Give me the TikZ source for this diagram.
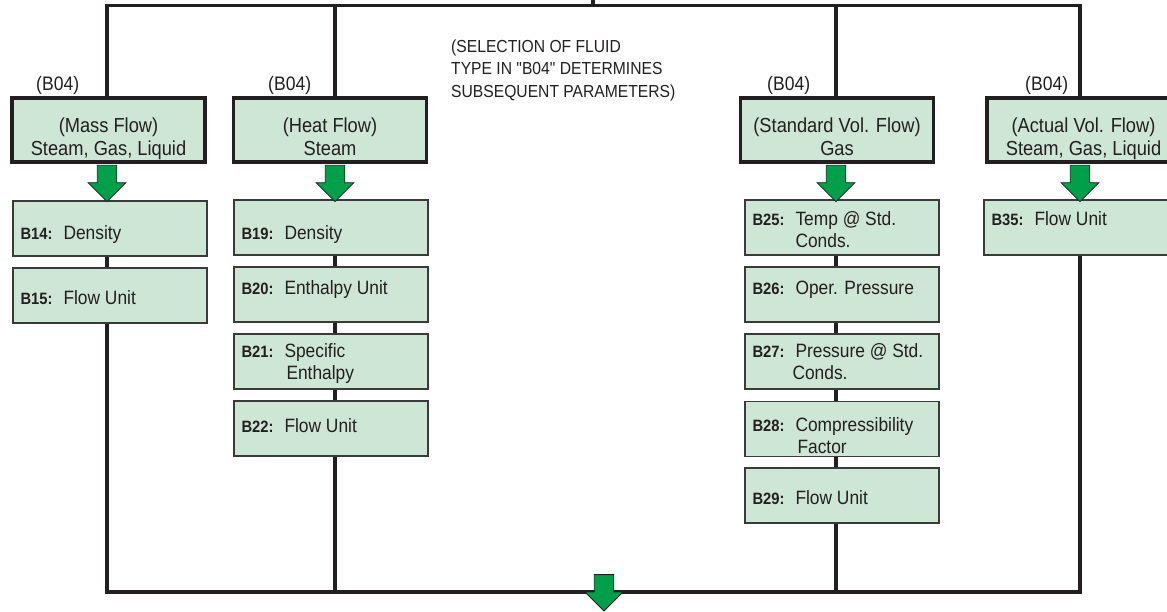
\documentclass[tikz,border=0pt]{standalone}
\usepackage{fontspec}
\setmainfont[FakeStretch=0.9]{Liberation Sans}
\newfontfamily\notefamily[FakeStretch=0.9]{Liberation Sans}
\usetikzlibrary{calc,backgrounds}
\definecolor{boxgreen}{HTML}{CDE6D5}
\definecolor{arrgreen}{HTML}{00A04B}
\definecolor{linedark}{HTML}{231F20}
\definecolor{thinborder}{HTML}{3A3A3A}
\newcommand\hdrfont{\fontsize{20.3}{23}\selectfont}
\newcommand\itmfont{\fontsize{19.3}{22}\selectfont}
\newcommand\tagfont{\fontsize{16.4}{22}\selectfont\bfseries}
\newcommand\notefont{\notefamily\fontsize{17.4}{22.5}\selectfont}
\newcommand\bfont{\fontsize{19.5}{22}\selectfont}
\newcommand\hdrtext[2]{\begin{tabular}[t]{@{}c@{}}#1\\#2\end{tabular}}
\newcommand\itmtext[3]{\begin{tabular}[t]{@{}p{43pt}@{}p{136pt}@{}}\tagfont #1 & \itmfont #2\\ & \itmfont #3\end{tabular}}
\begin{document}
\begin{tikzpicture}[x=1pt,y=-1pt,
  hdr/.style={draw=linedark, line width=3.3pt, fill=boxgreen, minimum width=193pt,
    minimum height=64pt, inner sep=0pt, text height=27pt, text depth=23pt,
    font=\hdrfont, text=linedark},
  itm/.style 2 args={draw=thinborder, line width=1.3pt, fill=boxgreen, minimum width=194pt,
    minimum height=55pt, inner ysep=0pt, text height=#1, text depth=#2,
    font=\itmfont, text=linedark},
  bus/.style={draw=linedark, line width=3.4pt},
  conn/.style={draw=linedark, line width=3.3pt},
  outbus/.style={draw=linedark, line width=4.5pt, line cap=rect},
  lbl/.style={anchor=base west, inner sep=0pt, text=linedark},
  garrow/.pic={\draw[fill=arrgreen, draw=linedark, line width=0.8pt]
    (-9.75,1.6) -- (-9.75,19) -- (-19,19) -- (0,38) -- (19,19) -- (9.75,19) -- (9.75,1.6) -- cycle;}
]
\useasboundingbox (0,0) rectangle (1167,611);

% column coordinates
\coordinate (x1) at (107,5.5);
\coordinate (x2) at (335,5.5);
\coordinate (x3) at (836,5.5);
\coordinate (x4) at (1080,5.5);
\coordinate (in) at (593,0);
\coordinate (tj) at (593,5.5);
\coordinate (y1) at (107,592);
\coordinate (y2) at (335,592);
\coordinate (y3) at (836,592);
\coordinate (y4) at (1080,592);
\coordinate (out) at (604,573);

% parameter boxes
\node[itm={28pt}{7pt}]  (b14) at (110,228.5) {\itmtext{B14:}{Density}{}};
\node[itm={26pt}{9pt}]  (b15) at (110,295.5) {\itmtext{B15:}{Flow Unit}{}};
\node[itm={29pt}{6pt}]  (b19) at (331,227.5) {\itmtext{B19:}{Density}{}};
\node[itm={17pt}{18pt}] (b20) at (331,294.5) {\itmtext{B20:}{Enthalpy Unit}{}};
\node[itm={13pt}{22pt}] (b21) at (331,361.5) {\itmtext{B21:}{Specific}{\hspace{2pt}Enthalpy}};
\node[itm={21pt}{14pt}] (b22) at (331,428.5) {\itmtext{B22:}{Flow Unit}{}};
\node[itm={15pt}{20pt}] (b25) at (842,227.5) {\itmtext{B25:}{Temp @ Std.}{Conds.}};
\node[itm={17pt}{18pt}] (b26) at (842,294.5) {\itmtext{B26:}{Oper. Pressure}{}};
\node[itm={13pt}{22pt}] (b27) at (842,361.5) {\itmtext{B27:}{Pressure @ Std.}{\hspace{-3pt}Conds.}};
\node[itm={20pt}{15pt}] (b28) at (842,429)   {\itmtext{B28:}{Compressibility}{\hspace{2pt}Factor}};
\node[itm={26pt}{9pt}]  (b29) at (842,495.5) {\itmtext{B29:}{Flow Unit}{}};
\node[itm={15pt}{20pt}] (b35) at (1081,227.5) {\itmtext{B35:}{Flow Unit}{}};

% header boxes
\node[hdr] (h1) at (108.5,130) {\hdrtext{(Mass Flow)}{Steam, Gas, Liquid}};
\node[hdr] (h2) at (330,130) {\hdrtext{(Heat Flow)}{Steam}};
\node[hdr] (h3) at (837,130) {\hdrtext{(Standard Vol. Flow)}{Gas}};
\node[hdr] (h4) at (1083.5,130) {\hdrtext{(Actual Vol. Flow)}{Steam, Gas, Liquid}};

% green arrows
\pic at (h1.south -| x1) {garrow};
\pic at (h2.south -| x2) {garrow};
\pic at (h3.south -| x3) {garrow};
\pic at (h4.south -| x4) {garrow};

% labels
\node[lbl, font=\bfont] (t1) at (36,90) {(B04)};
\node[lbl, font=\bfont] (t2) at (268,90) {(B04)};
\node[lbl, font=\bfont] (t3) at (767,90) {(B04)};
\node[lbl, font=\bfont] (t4) at (1025,90) {(B04)};
\node[lbl, font=\notefont] (note) at (451,52)
  {\begin{tabular}[t]{@{}l@{}}(SELECTION OF FLUID\\TYPE IN "B04" DETERMINES\\SUBSEQUENT PARAMETERS)\end{tabular}};

% connectors
\begin{scope}[on background layer]
\draw[bus] (h1.north -| x1) -- (x1) -- (x4) -- (h4.north -| x4);
\draw[bus] (x2) -- (h2.north -| x2);
\draw[bus] (x3) -- (h3.north -| x3);
\draw[bus] (in) -- (tj);
\draw[conn] (b14.south -| x1) -- (b15.north -| x1);
\draw[conn] (b15.south -| x1) -- (y1);
\draw[conn] (b19.south -| x2) -- (b20.north -| x2);
\draw[conn] (b20.south -| x2) -- (b21.north -| x2);
\draw[conn] (b21.south -| x2) -- (b22.north -| x2);
\draw[conn] (b22.south -| x2) -- (y2);
\draw[conn] (b25.south -| x3) -- (b26.north -| x3);
\draw[conn] (b26.south -| x3) -- (b27.north -| x3);
\draw[conn] (b27.south -| x3) -- (b28.north -| x3);
\draw[conn] (b28.south -| x3) -- (b29.north -| x3);
\draw[conn] (b29.south -| x3) -- (y3);
\draw[conn] (b35.south -| x4) -- (y4);
\draw[outbus] (y1) -- (y4);
\end{scope}
\pic at (out) {garrow};
\end{tikzpicture}
\end{document}
